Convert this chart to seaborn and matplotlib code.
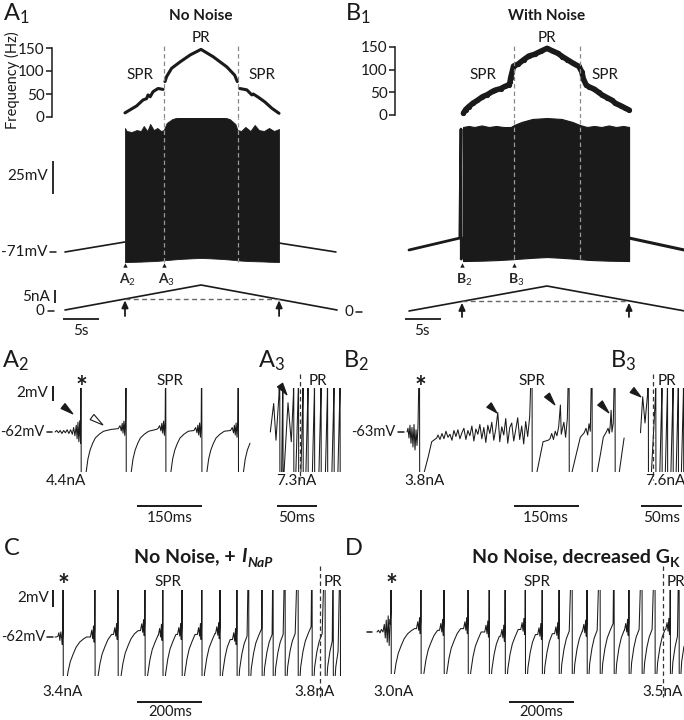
import numpy as np
import matplotlib
matplotlib.use("Agg")
import matplotlib.pyplot as plt
from matplotlib.patches import Polygon
import seaborn as sns

# ---------------- values ----------------
# A1 / B1: triangular current ramp (s, nA)
ramp_s = [0, 19, 38]
ramp_na = [0, 10, 0]
freq_ticks = [0, 50, 100, 150]

# A1 instantaneous firing frequency (s, Hz)
a1_spr1_s = [8.38, 10.0, 10.9, 11.4, 11.6, 11.9, 12.3, 13.0, 13.7]
a1_spr1_hz = [9, 24, 37, 40, 48, 44, 55, 62, 60]
a1_pr_s = [13.97, 14.2, 14.9, 16.1, 17.5, 19.0, 20.7, 22.6, 23.7, 24.07]
a1_pr_hz = [77, 88, 106, 120, 135, 147, 131, 109, 91, 77]
a1_spr2_s = [24.4, 25.4, 26.1, 26.3, 27.0, 27.9, 28.9, 29.9]
a1_spr2_hz = [62, 59, 48, 50, 43, 33, 19, 8]
a1_bounds_s = [13.83, 24.16]

# A1 membrane potential: resting ramps and the envelope of the spiking block (s, mV)
a1_rest1_s = [0, 8.38]
a1_rest1_mv = [-71, -63.3]
a1_rest2_s = [29.9, 37.85]
a1_rest2_mv = [-64.1, -71]
a1_blk_s = [8.38, 8.6, 9.3, 10.0, 10.6, 11.0, 11.5, 11.9, 12.4, 12.9, 13.4, 13.8, 14.2, 15.0,
            16.5, 18.0, 19.0, 20.0, 21.5, 23.0, 23.8, 24.1, 24.6, 25.2, 25.9, 26.5, 27.1, 27.8,
            28.5, 29.2, 29.9]
a1_blk_top = [24.4, 22.1, 21.3, 22.8, 22.1, 25.9, 22.1, 27.5, 22.8, 24.4, 22.1, 22.8, 28.2, 31.3,
              33.6, 34.8, 35.2, 34.8, 33.6, 31.3, 27.5, 22.8, 22.1, 25.2, 22.1, 26.7, 22.8, 22.1,
              24.4, 22.1, 23.6]
a1_blk_bot = [-78.7, -78.7, -78.6, -78.5, -78.4, -78.3, -78.2, -78.1, -78.0, -77.8, -77.6, -77.4,
              -77.2, -76.8, -76.2, -75.8, -75.6, -75.8, -76.2, -76.8, -77.2, -77.4, -77.6, -77.8,
              -78.0, -78.1, -78.2, -78.3, -78.5, -78.6, -78.7]
a1_onset_na = 4.4
a1_marks_s = [8.38, 13.83]

# B1 instantaneous frequency (noisy cloud, s, Hz)
b1_f_s = [7.5, 7.8, 8.2, 8.8, 9.4, 10.1, 10.8, 11.5, 11.9, 12.6, 13.2, 13.7, 13.9, 14.0, 14.2,
          14.4, 15.0, 15.8, 16.5, 17.3, 18.2, 19.0, 19.8, 20.5, 21.1, 21.8, 22.6, 23.4, 23.8,
          24.0, 24.4, 24.8, 25.5, 26.1, 26.6, 27.3, 28.0, 28.4, 29.2, 29.8, 30.3]
b1_f_hz = [4, 12, 18, 26, 32, 40, 45, 52, 55, 58, 63, 66, 72, 82, 95, 108, 112, 122, 130, 134,
           141, 147, 141, 136, 129, 122, 114, 107, 95, 80, 66, 62, 57, 50, 44, 38, 32, 26, 20,
           15, 11]
b1_bounds_s = [14.46, 23.55]
b1_rest1_s = [0, 7.0, 7.16, 7.2, 7.3, 7.44]
b1_rest1_mv = [-71, -61.8, 22, -78, -62, -62]
b1_rest2_s = [30.3, 37.9]
b1_rest2_mv = [-61.8, -71]
b1_blk_s = [7.44, 8.2, 9.0, 10.0, 11.0, 12.0, 13.0, 14.0, 14.5, 15.5, 17.0, 19.0, 21.0, 22.5,
            23.5, 24.5, 25.5, 26.5, 27.5, 28.5, 29.5, 30.3]
b1_blk_top = [23.6, 24.4, 23.6, 24.8, 23.6, 24.4, 23.6, 23.6, 25.2, 27.5, 29.8, 30.5, 29.8, 27.5,
              25.2, 23.6, 24.4, 23.6, 24.8, 23.6, 24.4, 23.6]
b1_blk_bot = [-79.5, -79.4, -79.3, -79.2, -79.0, -78.8, -78.5, -78.2, -78.0, -77.6, -77.0, -76.4,
              -77.0, -77.6, -78.0, -78.5, -78.8, -79.0, -79.2, -79.3, -79.4, -79.5]
b1_onset_na = 3.8
b1_marks_s = [7.3, 14.46]

# A2: spikes near SPR onset (ms, mV relative to -62 mV)
a2_base = -62
a2_spikes = [60, 164, 255.5, 338.6, 423]
a2_end = 451.6
a2_level = [0, 0, 0, 0, 0]
a2_lead_ms = [0, 4, 8, 12, 16, 20, 24, 28, 32, 36, 40, 43, 46, 49, 51, 53, 55, 57, 59]
a2_lead_dv = [0, 0.2, -0.1, 0.2, -0.2, 0.2, -0.1, 0.3, -0.2, 0.3, -0.3, 0.6, -0.5, 0.9, -0.9,
              1.3, -1.3, 1.5, -1.5]
a2_ahp_ms = [2, 12, 16, 21, 27, 33, 42, 52, 70]
a2_ahp_dv = [-12, -5.3, -3.6, -2.4, -1.5, -0.8, -0.3, 0.1, 0.35]
a2_pre_ms = [-18, -14, -11, -9, -7, -5, -3, -1.2]
a2_pre_dv = [0.1, 0.5, -0.2, 0.8, -0.5, 1.1, -0.8, 1.4]

# A3: SPR -> PR transition (ms, mV relative to -62 mV)
a3_ms = [0.4, 4.6, 7.5, 11.2, 12.1, 12.5, 14.4, 15.9, 16.1, 16.4, 17.2, 22.5, 26.6, 29.3, 29.6,
         29.9, 32.0, 35.3, 35.6, 35.9]
a3_dv = [0, 3.8, -1.1, 4.9, 12, -12, -6.5, 5.9, 12, -12, -6, 3.9, -1.3, 5.0, 12, -12, -6.5,
         5.5, 12, -12]
a3_pr_spikes = [41.3, 47.5, 55.6, 63.8, 71.9, 80.0, 87.5]
a3_bound_ms = 37.5

# B2: noisy SPR onset (ms, mV relative to -63 mV)
b2_base = -63
b2_lead_ms = [0, 2.3, 4.6, 6.9, 9.2, 11.5, 13.8, 16.2, 18.5, 20.8, 23.1, 25.4]
b2_lead_dv = [0, 0.5, -0.8, 0.9, -1.5, 0.6, -2.0, 1.0, -2.4, 0.3, -1.8, 0.8]
b2_spikes = [28.8, 288.5, 374, 427, 480]
b2_rec_ms = [40, 49, 57, 68.6, 300, 314, 325.7, 330, 334, 338, 342, 346, 350, 354, 356, 362,
             366, 370, 381, 390, 400, 409, 413, 417, 420, 423, 439, 446, 453, 460, 464, 467, 469,
             471, 473, 476, 490, 497, 501]
b2_rec_dv = [-5.3, -3.3, -1.3, -0.8, -5.3, -1.3, -1.1, -0.9, -0.2, -1.0, 0.1, -0.5, 0.7, 3.6,
             -0.3, 1.3, -0.7, 1.8, -5.3, -3.1, -0.7, -0.1, 0.5, -0.4, 1.1, 0.1, -5.3, -3.1, -0.7,
             0.0, 0.5, -0.2, 0.9, 2.9, 0.0, 1.2, -5.3, -2.4, -0.8]
b2_flat_t0 = 71.5
b2_flat_step = 4.6
b2_flat_dv = [-0.4, -1.0, -0.2, -0.9, 0.1, -0.7, -0.3, -1.1, 0.2, -0.6,
              0.3, -0.9, -0.1, 0.5, -1.0, 0.2, -0.5, 0.8, -1.2, 0.4,
              -0.3, 1.0, -0.9, 0.6, -1.4, 0.9, -0.2, 1.3, -1.1, 0.4,
              2.6, -1.3, 0.7, -0.4, 1.8, -1.5, 0.6, 1.2, -1.2, 0.3,
              1.9, -1.0, 0.8, -1.6, 1.4, -0.6, 2.0]

# B3 (ms, mV relative to -63 mV)
b3_ms = [0.6, 3.3, 6.1, 9.1, 10.1, 10.4, 13.4, 18.9, 19.2, 19.5]
b3_dv = [-0.1, 4.7, 1.2, 4.9, 12, -12, -6.5, 4.9, 12, -12]
b3_pr_spikes = [26.8, 33.5, 40.3, 46.7, 53.1]
b3_bound_ms = 16.2

# C and D: no noise with + I_NaP / decreased G_K (ms, mV relative to -62 mV)
cd_base = -62
cd_ahp_ms = [1.5, 8, 15, 22, 31, 40, 51, 62, 72, 90]
cd_ahp_dv = [-10, -6.0, -4.2, -3.0, -2.1, -1.3, -0.7, -0.35, -0.1, 0.0]
cd_pre_ms = [-14, -10, -7, -4.5, -2.5, -1]
cd_pre_dv = [0.0, 0.8, -0.2, 1.3, -0.6, 0.9]
c_spikes = [25, 123, 194, 277, 332, 391, 452, 508, 560, 596, 637, 671, 708, 748, 791, 831, 856, 878]
c_level = [0.1, 1.0, 1.1, 1.5, 1.6, 1.6, 1.7, 1.8, 2.2, 2.3, 2.4, 2.4, 2.5, 2.5, 2.5, 2.5, 2.5, 2.5]
c_end = 884
c_lead_ms = [0, 4, 9, 12, 15, 18, 21]
c_lead_dv = [0, 0, 0.1, 0.5, -0.4, 0.6, -0.3]
c_bound_ms = 816
d_spikes = [65, 157, 228, 302, 367, 416, 478, 530, 582, 622, 668, 708, 751, 797, 837, 877, 924, 951]
d_level = [0.5, 0.9, 1.1, 1.3, 1.6, 1.6, 1.8, 1.9, 2.2, 2.2, 2.3, 2.3, 2.3, 2.4, 2.4, 2.4, 2.5, 2.5]
d_end = 967
d_lead_ms = [21.6, 26, 30.8, 35, 40, 44, 47, 50, 53, 56, 59, 62]
d_lead_dv = [0, 0.2, -0.1, 0.3, 0, 0.9, -0.7, 1.4, -1.2, 1.9, -1.6, 1.5]
d_bound_ms = 900

# ---------------- styling ----------------
sns.set_theme(style="ticks", context="paper")
plt.rcParams["font.family"] = ["Lato", "DejaVu Sans"]
plt.rcParams["mathtext.fontset"] = "custom"
plt.rcParams["mathtext.rm"] = "Lato"
plt.rcParams["mathtext.bf"] = "Lato:bold"
plt.rcParams["mathtext.it"] = "Lato:italic"

W, H = 684, 720
fig = plt.figure(figsize=(W / 100, H / 100), dpi=100)
fig.patch.set_facecolor("white")
DASH = (0, (3.5, 2.5))


def panel(box, xref, yref):
    # box in pixels (left, top, right, bottom); refs map two pixels to two data values
    l, t, r, b = box
    ax = fig.add_axes([l / W, 1 - b / H, (r - l) / W, (b - t) / H])
    ax.patch.set_alpha(0)

    def lim(p0, v0, p1, v1, a, c):
        k = (v1 - v0) / (p1 - p0)
        return v0 + (a - p0) * k, v0 + (c - p0) * k

    ax.set_xlim(*lim(*xref, l, r))
    ax.set_ylim(*lim(*yref, b, t))
    ax.set_axis_off()
    return ax


def dy(ax, py):
    disp = fig.transFigure.transform((0, 1 - py / H))
    return ax.transData.inverted().transform(disp)[1]


def dx(ax, px):
    disp = fig.transFigure.transform((px / W, 0))
    return ax.transData.inverted().transform(disp)[0]


ov = fig.add_axes([0, 0, 1, 1])
ov.set_xlim(0, W)
ov.set_ylim(H, 0)
ov.set_axis_off()
ov.patch.set_alpha(0)
ov.set_zorder(10)


def txt(x, y, s, size=11, ha="center", va="center", **kw):
    ov.text(x, y, s, fontsize=size, ha=ha, va=va, color="k", **kw)


def tick(x0, x1, y):
    ov.plot([x0, x1], [y, y], color="k", lw=1.1)


def head(x0, y0, x1, y1, w=3.2, fc="k"):
    L = np.hypot(x1 - x0, y1 - y0)
    nx, ny = -(y1 - y0) / L * w, (x1 - x0) / L * w
    ov.add_patch(Polygon([(x1, y1), (x0 + nx, y0 + ny), (x0 - nx, y0 - ny)],
                         closed=True, fc=fc, ec="k", lw=0.8))


def trace(ax, t, v, lw=0.75, **kw):
    sns.lineplot(x=list(t), y=list(v), ax=ax, color="k", lw=lw, estimator=None,
                 sort=False, **kw)


def spike_train(spikes, t_end, ahp_ms, ahp_dv, pre_ms, pre_dv, levels, lead_ms, lead_dv,
                base, gap=45.0):
    t = list(lead_ms)
    v = [base + d for d in lead_dv]
    for i, ts in enumerate(spikes):
        if i == 0 or ts - spikes[i - 1] >= gap:
            ref = v[-1]
            for dt, dv in zip(pre_ms, pre_dv):
                if ts + dt > t[-1]:
                    t.append(ts + dt)
                    v.append(ref + dv)
        t += [ts, ts + 0.6]
        v += [base + 12, base - 12]
        nxt = spikes[i + 1] if i + 1 < len(spikes) else t_end
        stop = nxt + pre_ms[0] if (i + 1 < len(spikes) and nxt - ts >= gap) else nxt - 0.8
        for dt, dv in zip(ahp_ms, ahp_dv):
            if ts + dt < stop:
                t.append(ts + dt)
                v.append(base + levels[i] + dv)
    return t, v


def sawtooth(spikes, base, rise=3.0):
    t, v = [], []
    for ts in spikes:
        t += [ts - rise, ts - 0.2, ts, ts + 0.3]
        v += [base - 7, base + 5, base + 12, base - 12]
    return t, v


def freq_axis(ax):
    ax.set_axis_on()
    sns.despine(ax=ax, bottom=True)
    ax.spines["left"].set_bounds(0, 150)
    ax.spines["left"].set_linewidth(1.1)
    ax.spines["left"].set_color("k")
    ax.set_xticks([])
    ax.set_yticks(freq_ticks)
    ax.tick_params(axis="y", length=4, width=1.1, pad=1.5, labelsize=11, colors="k")


def ramp_panel(box, x0px, px_per_s, y0px, onset_na, onset_s, offset_s, bar_px):
    ax = panel(box, (x0px, 0, x0px + 19 * px_per_s, 19), (y0px, 0, y0px - 25, 10))
    trace(ax, ramp_s, ramp_na, lw=1.2)
    ax.hlines(onset_na, onset_s, offset_s, colors="#666", lw=1.0, linestyles=DASH)
    for s in (onset_s, offset_s):
        ax.annotate("", xy=(s, onset_na - 0.5), xytext=(s, dy(ax, y0px + 6)),
                    arrowprops=dict(arrowstyle="-|>,head_length=0.45,head_width=0.2",
                                    color="k", lw=1.3, shrinkA=0, shrinkB=0))
    yb = dy(ax, 319)
    xb = dx(ax, bar_px)
    ax.hlines(yb, xb, xb + 5, colors="k", lw=1.3, clip_on=False)
    return ax


# ================= A1 =================
fa = panel((52, 40, 342, 118), (65, 0, 201, 19), (117, 0, 48, 150))
freq_axis(fa)
for s, hz in [(a1_spr1_s, a1_spr1_hz), (a1_pr_s, a1_pr_hz), (a1_spr2_s, a1_spr2_hz)]:
    trace(fa, s, hz, lw=2.2)
fa.vlines(a1_bounds_s, fa.get_ylim()[0], dy(fa, 45), colors="#888", lw=0.9, linestyles=DASH)

va = panel((52, 118, 342, 292), (65, 0, 201, 19), (252, -71, 122, 29))
va.fill_between(a1_blk_s, a1_blk_bot, a1_blk_top, color="k", lw=0.6)
trace(va, a1_rest1_s, a1_rest1_mv, lw=1.2)
trace(va, a1_rest2_s, a1_rest2_mv, lw=1.2)
va.vlines(a1_bounds_s, -78.5, va.get_ylim()[1], colors="#999", lw=0.9, linestyles=DASH, zorder=5)
va.vlines(dx(va, 53), -26, -1, colors="k", lw=1.3)
va.scatter(a1_marks_s, [dy(va, 265)] * 2, marker="^", s=10, color="k", lw=0)
for s, lab in zip(a1_marks_s, [r"$\mathbf{A}_2$", r"$\mathbf{A}_3$"]):
    va.text(s + 0.3, dy(va, 280), lab, ha="center", va="center", fontsize=10)

ia = ramp_panel((36, 280, 342, 340), 65, 7.16, 310, a1_onset_na, 8.38, 29.9, 63)
ia.vlines(dx(ia, 55), 3, 8, colors="k", lw=1.3)

# ================= B1 =================
fb = panel((395, 40, 684, 118), (409, 0, 547, 19), (115, 0, 47, 150))
freq_axis(fb)
trace(fb, b1_f_s, b1_f_hz, lw=4.0)
sns.scatterplot(x=b1_f_s, y=b1_f_hz, ax=fb, color="k", s=14, lw=0)
fb.vlines(b1_bounds_s, fb.get_ylim()[0], dy(fb, 45), colors="#888", lw=0.9, linestyles=DASH)

vb = panel((395, 118, 684, 292), (409, 0, 547, 19), (250, -71, 120, 29))
vb.fill_between(b1_blk_s, b1_blk_bot, b1_blk_top, color="k", lw=0.8)
trace(vb, b1_rest1_s, b1_rest1_mv, lw=2.0)
trace(vb, b1_rest2_s, b1_rest2_mv, lw=2.2)
vb.vlines(b1_bounds_s, -78, vb.get_ylim()[1], colors="#999", lw=0.9, linestyles=DASH, zorder=5)
vb.scatter(b1_marks_s, [dy(vb, 265)] * 2, marker="^", s=10, color="k", lw=0)
for s, lab in zip(b1_marks_s, [r"$\mathbf{B}_2$", r"$\mathbf{B}_3$"]):
    vb.text(s + 0.3, dy(vb, 280), lab, ha="center", va="center", fontsize=10)

ib = ramp_panel((340, 280, 684, 340), 409, 7.26, 311, b1_onset_na, 7.3, 30.3, 405)

# ================= A2 / A3 =================
a2 = panel((52, 388, 262, 472), (55, 0, 120, 150), (432, a2_base, 387, a2_base + 6))
t, v = spike_train(a2_spikes, a2_end, a2_ahp_ms, a2_ahp_dv, a2_pre_ms, a2_pre_dv, a2_level,
                   a2_lead_ms, a2_lead_dv, a2_base)
trace(a2, t, v)
a2.vlines(dx(a2, 53), dy(a2, 401), dy(a2, 401) + 2, colors="k", lw=1.4, clip_on=False)
a2.hlines(dy(a2, 506), dx(a2, 137), dx(a2, 137) + 150, colors="k", lw=1.4, clip_on=False)

a3 = panel((266, 388, 342, 472), (270, 0, 310, 50), (432, a2_base, 387, a2_base + 6))
st, sv = sawtooth(a3_pr_spikes, a2_base)
trace(a3, a3_ms + st, [a2_base + d for d in a3_dv] + sv)
a3.vlines(a3_bound_ms, dy(a3, 374), dy(a3, 480), colors="#333", lw=0.9, linestyles=DASH,
          clip_on=False)
a3.hlines(dy(a3, 506), dx(a3, 277), dx(a3, 277) + 50, colors="k", lw=1.4, clip_on=False)

# ================= B2 / B3 =================
b2 = panel((400, 388, 636, 472), (407, 0, 472, 150), (432, b2_base, 387, b2_base + 6))
pts = list(zip(b2_lead_ms, b2_lead_dv)) + list(zip(b2_rec_ms, b2_rec_dv))
pts += [(b2_flat_t0 + b2_flat_step * k, d) for k, d in enumerate(b2_flat_dv)]
for ts in b2_spikes:
    pts += [(ts, 12), (ts + 0.6, -12)]
pts.sort()
trace(b2, [p[0] for p in pts], [b2_base + p[1] for p in pts])
b2.hlines(dy(b2, 506), dx(b2, 514), dx(b2, 514) + 150, colors="k", lw=1.4, clip_on=False)

b3 = panel((636, 388, 684, 472), (640, 0, 681, 50), (432, b2_base, 387, b2_base + 6))
st, sv = sawtooth(b3_pr_spikes, b2_base)
trace(b3, b3_ms + st, [b2_base + d for d in b3_dv] + sv)
b3.vlines(b3_bound_ms, dy(b3, 374), dy(b3, 480), colors="#333", lw=0.9, linestyles=DASH,
          clip_on=False)
b3.hlines(dy(b3, 506), dx(b3, 641), dx(b3, 641) + 50, colors="k", lw=1.4, clip_on=False)

# ================= C / D =================
cax = panel((52, 590, 342, 676), (55, 0, 120, 200), (637, cd_base, 620, cd_base + 2))
t, v = spike_train(c_spikes, c_end, cd_ahp_ms, cd_ahp_dv, cd_pre_ms, cd_pre_dv, c_level,
                   c_lead_ms, c_lead_dv, cd_base)
trace(cax, t, v)
cax.vlines(c_bound_ms, dy(cax, 566), dy(cax, 697), colors="#333", lw=0.9, linestyles=DASH,
           clip_on=False)
cax.vlines(dx(cax, 53), dy(cax, 607), dy(cax, 607) + 2, colors="k", lw=1.4, clip_on=False)
cax.hlines(dy(cax, 702), dx(cax, 137), dx(cax, 137) + 200, colors="k", lw=1.4, clip_on=False)

dax = panel((362, 590, 684, 674), (370, 0, 435, 200), (632, cd_base, 615, cd_base + 2))
t, v = spike_train(d_spikes, d_end, cd_ahp_ms, cd_ahp_dv, cd_pre_ms, cd_pre_dv, d_level,
                   d_lead_ms, d_lead_dv, cd_base)
trace(dax, t, v)
dax.vlines(d_bound_ms, dy(dax, 566), dy(dax, 697), colors="#333", lw=0.9, linestyles=DASH,
           clip_on=False)
dax.hlines(dy(dax, 702), dx(dax, 509), dx(dax, 509) + 200, colors="k", lw=1.4, clip_on=False)

# ================= text =================
for x, y, s in [(3, 1, "A$_1$"), (345, 1, "B$_1$"), (2, 348, "A$_2$"), (258, 348, "A$_3$"),
                (343, 348, "B$_2$"), (610, 348, "B$_3$"), (4, 538, "C"), (345, 538, "D")]:
    txt(x, y, s, size=17, ha="left", va="top")

txt(201, 16, "No Noise", weight="bold")
txt(547, 16, "With Noise", weight="bold")
for x, y, s in [(201, 38, "PR"), (140, 75, "SPR"), (262, 75, "SPR"),
                (547, 38, "PR"), (483, 75, "SPR"), (605, 75, "SPR"),
                (170, 381, "SPR"), (318, 381, "PR"), (532, 381, "SPR"), (667, 381, "PR"),
                (168, 582, "SPR"), (333, 582, "PR"), (537, 582, "SPR"), (676, 582, "PR")]:
    txt(x, y, s)
txt(12, 80, "Frequency (Hz)", size=10.5, rotation=90)

txt(48, 176, "25mV", ha="right")
txt(47, 252, "-71mV", ha="right")
tick(50, 56, 252)
txt(50, 297, "5nA", ha="right")
txt(44, 311, "0", ha="right")
tick(48, 54, 311)
txt(353, 312, "0", ha="right")
tick(356, 362, 312)
txt(81, 331, "5s")
txt(422, 331, "5s")

txt(48, 393, "2mV", ha="right")
txt(44, 432, "-62mV", size=10.5, ha="right")
tick(47, 52, 432)
txt(395, 432, "-63mV", size=10.5, ha="right")
tick(398, 404, 432)
for x, y, s in [(66, 481, "4.4nA"), (296, 481, "7.3nA"), (425, 481, "3.8nA"),
                (665, 481, "7.6nA"), (170, 518, "150ms"), (297, 518, "50ms"),
                (546, 518, "150ms"), (662, 518, "50ms"),
                (63, 692, "3.4nA"), (315, 692, "3.8nA"), (394, 692, "3.0nA"),
                (663, 692, "3.5nA")]:
    txt(x, y, s)
txt(170, 712, "200ms", size=10.5)
txt(541, 712, "200ms", size=10.5)
for x in (81, 420, 63, 391):
    txt(x, 388 if x in (81, 420) else 586, "*", size=20, weight="bold")

txt(49, 598, "2mV", ha="right")
txt(45, 637, "-62mV", size=10.5, ha="right")
tick(47, 53, 637)
tick(367, 372, 632)

txt(240, 557, "No Noise, + ", size=14, ha="right", weight="bold")
txt(241, 557, "I", size=14, ha="left", weight="bold", style="italic")
txt(247, 563, "NaP", ha="left", size=10, weight="bold", style="italic")
txt(670, 557, "No Noise, decreased G", size=14, ha="right", weight="bold")
txt(670, 563, "K", ha="left", size=10, weight="bold")

# arrowheads marking sub-threshold oscillations
head(63, 406, 73, 414)
head(92, 417, 103, 425, fc="white")
head(280, 385, 287, 395)
head(489, 405, 497, 413)
head(547, 395, 555, 405)
head(600, 403, 609, 413)
head(632, 390, 641, 397)

fig.savefig("out.png", dpi=100)
